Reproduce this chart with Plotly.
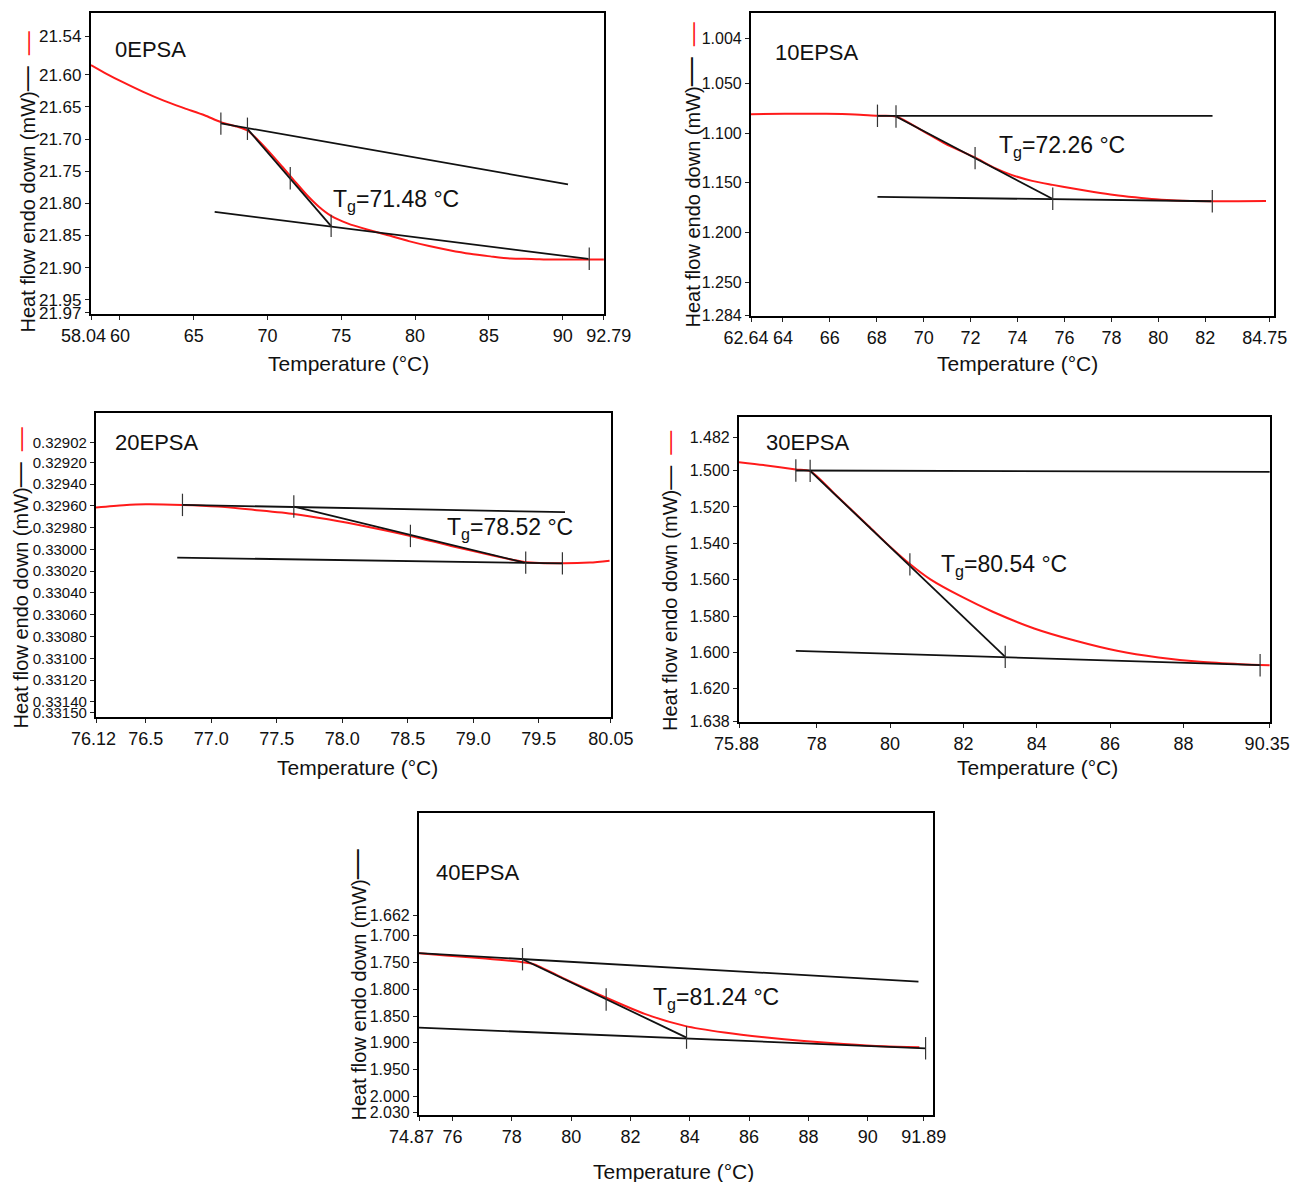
import plotly.graph_objects as go

W, H = 1290, 1182

# ---------------- 0EPSA ----------------
T_0 = [58.04, 59.09, 60.20, 61.58, 62.97, 64.35, 65.73, 66.84, 67.95, 68.64, 69.33, 70.16,
       70.99, 71.82, 72.65, 73.48, 74.31, 75.42, 76.80, 78.18, 79.57, 80.95, 82.33, 83.72,
       85.10, 86.48, 87.87, 89.25, 90.64, 92.79]
HF_0 = [21.5849, 21.5985, 21.6116, 21.6267, 21.6403, 21.6519, 21.6630, 21.6736, 21.6807,
        21.6867, 21.7009, 21.7210, 21.7427, 21.7649, 21.7866, 21.8052, 21.8194, 21.8310,
        21.8410, 21.8496, 21.8587, 21.8663, 21.8728, 21.8784, 21.8824, 21.8858, 21.8864,
        21.8874, 21.8874, 21.8874]
UPPER_T_0, UPPER_HF_0 = [66.84, 90.36], [21.6756, 21.7704]
LOWER_T_0, LOWER_HF_0 = [66.42, 91.74], [21.8133, 21.8864]
INFL_T_0, INFL_HF_0 = [68.64, 74.31], [21.6842, 21.8355]
MARK_T_0 = [66.84, 68.64, 71.54, 74.31, 91.80]
MARK_HF_0 = [21.676, 21.684, 21.761, 21.835, 21.886]
XTICK_0 = [58.04, 60, 65, 70, 75, 80, 85, 90, 92.79]
XTEXT_0 = ["58.04", "60", "65", "70", "75", "80", "85", "90", "92.79"]
YTICK_0 = [21.54, 21.60, 21.65, 21.70, 21.75, 21.80, 21.85, 21.90, 21.95, 21.97]
YTEXT_0 = ["21.54", "21.60", "21.65", "21.70", "21.75", "21.80", "21.85", "21.90", "21.95", "21.97"]

# ---------------- 10EPSA ----------------
T_10 = [62.64, 64.08, 65.84, 67.07, 68.03, 68.82, 69.88, 70.93, 72.16, 73.04, 73.74, 74.62,
        75.50, 76.37, 77.25, 78.13, 79.01, 79.89, 80.77, 82.26, 83.40, 84.59]
HF_10 = [1.08064, 1.08030, 1.08030, 1.08098, 1.08232, 1.08300, 1.09646, 1.11061, 1.12407,
         1.13519, 1.14192, 1.14798, 1.15202, 1.15572, 1.15909, 1.16212, 1.16448, 1.16650,
         1.16785, 1.16852, 1.16852, 1.16818]
UPPER_T_10, UPPER_HF_10 = [68.03, 82.31], [1.0823, 1.0823]
LOWER_T_10, LOWER_HF_10 = [68.03, 82.26], [1.16414, 1.16852]
INFL_T_10, INFL_HF_10 = [68.82, 75.46], [1.0830, 1.1658]
MARK_T_10 = [68.03, 68.82, 72.19, 75.50, 82.30]
MARK_HF_10 = [1.0823, 1.0830, 1.1250, 1.1660, 1.1685]
XTICK_10 = [62.64, 64, 66, 68, 70, 72, 74, 76, 78, 80, 82, 84.75]
XTEXT_10 = ["62.64", "64", "66", "68", "70", "72", "74", "76", "78", "80", "82", "84.75"]
YTICK_10 = [1.004, 1.050, 1.100, 1.150, 1.200, 1.250, 1.284]
YTEXT_10 = ["1.004", "1.050", "1.100", "1.150", "1.200", "1.250", "1.284"]

# ---------------- 20EPSA ----------------
T_20 = [76.12, 76.33, 76.50, 76.78, 77.05, 77.33, 77.63, 77.89, 78.21, 78.52, 78.83, 79.14,
        79.39, 79.68, 79.89, 80.04]
HF_20 = [0.329615, 0.329594, 0.329585, 0.329591, 0.329606, 0.329637, 0.329674, 0.329723,
         0.329796, 0.329876, 0.329968, 0.330054, 0.330115, 0.330128, 0.330121, 0.330103]
UPPER_T_20, UPPER_HF_20 = [76.78, 79.70], [0.329591, 0.329658]
LOWER_T_20, LOWER_HF_20 = [76.74, 79.68], [0.330075, 0.330128]
INFL_T_20, INFL_HF_20 = [77.63, 79.39], [0.329606, 0.330121]
MARK_T_20 = [76.78, 77.63, 78.52, 79.40, 79.68]
MARK_HF_20 = [0.329591, 0.329606, 0.329876, 0.330121, 0.330128]
XTICK_20 = [76.12, 76.5, 77.0, 77.5, 78.0, 78.5, 79.0, 79.5, 80.05]
XTEXT_20 = ["76.12", "76.5", "77.0", "77.5", "78.0", "78.5", "79.0", "79.5", "80.05"]
YTICK_20 = [0.32902, 0.32920, 0.32940, 0.32960, 0.32980, 0.33000, 0.33020, 0.33040,
            0.33060, 0.33080, 0.33100, 0.33120, 0.33140, 0.33150]
YTEXT_20 = ["0.32902", "0.32920", "0.32940", "0.32960", "0.32980", "0.33000", "0.33020",
            "0.33040", "0.33060", "0.33080", "0.33100", "0.33120", "0.33140", "0.33150"]

# ---------------- 30EPSA ----------------
T_30 = [75.88, 76.58, 77.43, 77.82, 78.50, 79.41, 79.97, 80.54, 81.10, 81.95, 82.80, 83.93,
        85.06, 86.19, 87.32, 88.45, 89.58, 90.35]
HF_30 = [1.49541, 1.49706, 1.49945, 1.50037, 1.51303, 1.53046, 1.54128, 1.55138, 1.55982,
         1.56936, 1.57761, 1.58679, 1.59358, 1.59908, 1.60275, 1.60514, 1.60642, 1.60697]
UPPER_T_30, UPPER_HF_30 = [77.43, 90.35], [1.5000, 1.50073]
LOWER_T_30, LOWER_HF_30 = [77.43, 90.09], [1.59908, 1.60697]
INFL_T_30, INFL_HF_30 = [77.82, 83.14], [1.50018, 1.60239]
MARK_T_30 = [77.43, 77.82, 80.54, 83.14, 90.09]
MARK_HF_30 = [1.5000, 1.5002, 1.5516, 1.6024, 1.6070]
XTICK_30 = [75.88, 78, 80, 82, 84, 86, 88, 90.35]
XTEXT_30 = ["75.88", "78", "80", "82", "84", "86", "88", "90.35"]
YTICK_30 = [1.482, 1.500, 1.520, 1.540, 1.560, 1.580, 1.600, 1.620, 1.638]
YTEXT_30 = ["1.482", "1.500", "1.520", "1.540", "1.560", "1.580", "1.600", "1.620", "1.638"]

# ---------------- 40EPSA ----------------
T_40 = [74.87, 75.77, 77.11, 78.36, 78.72, 79.80, 81.14, 82.48, 83.83, 85.17, 86.51, 87.85,
        89.19, 90.54, 91.74]
HF_40 = [1.7325, 1.7368, 1.7425, 1.7493, 1.7524, 1.7811, 1.8148, 1.8461, 1.8685, 1.8810,
         1.8898, 1.8966, 1.9022, 1.9066, 1.9085]
UPPER_T_40, UPPER_HF_40 = [74.87, 91.71], [1.7325, 1.7856]
LOWER_T_40, LOWER_HF_40 = [74.87, 91.95], [1.8717, 1.9104]
INFL_T_40, INFL_HF_40 = [78.36, 83.89], [1.7437, 1.8904]
MARK_T_40 = [78.36, 81.18, 83.89, 91.95]
MARK_HF_40 = [1.7437, 1.8191, 1.8904, 1.9104]
XTICK_40 = [74.87, 76, 78, 80, 82, 84, 86, 88, 90, 91.89]
XTEXT_40 = ["74.87", "76", "78", "80", "82", "84", "86", "88", "90", "91.89"]
YTICK_40 = [1.662, 1.700, 1.750, 1.800, 1.850, 1.900, 1.950, 2.000, 2.030]
YTEXT_40 = ["1.662", "1.700", "1.750", "1.800", "1.850", "1.900", "1.950", "2.000", "2.030"]

SAMPLES = ["0EPSA", "10EPSA", "20EPSA", "30EPSA", "40EPSA"]
TG_TEXT = ["71.48", "72.26", "78.52", "80.54", "81.24"]

FONT = "Liberation Sans, Arial, sans-serif"
RED = "#ff1a1a"
INK = "#111111"
NB = "\u00a0"


def fx(px):
    return px / W


def fy(py):
    return 1 - py / H


def pad_ends(labels, left, right_in, right_out=0):
    """Nudge crowded end labels sideways with non-breaking spaces."""
    out = list(labels)
    out[0] = out[0] + NB * left
    out[-1] = NB * right_out + out[-1] + NB * right_in
    return out


panels = [
    dict(T=T_0, HF=HF_0,
         lines=[(UPPER_T_0, UPPER_HF_0), (LOWER_T_0, LOWER_HF_0), (INFL_T_0, INFL_HF_0)],
         mt=MARK_T_0, mh=MARK_HF_0, xt=XTICK_0, xtt=pad_ends(XTEXT_0, 3, 0, 2), yt=YTICK_0, ytt=YTEXT_0,
         box=(91, 604, 13, 314), xr=[58.04, 92.80], yr=[21.972, 21.504], yfs=17,
         name_xy=(113, 50), tg_xy=(331, 200), ytitle_xy=(25, 335), xtitle_xy=(348, 363),
         red_leg=True, dash=25),
    dict(T=T_10, HF=HF_10,
         lines=[(UPPER_T_10, UPPER_HF_10), (LOWER_T_10, LOWER_HF_10), (INFL_T_10, INFL_HF_10)],
         mt=MARK_T_10, mh=MARK_HF_10, xt=XTICK_10, xtt=pad_ends(XTEXT_10, 2, 2), yt=YTICK_10, ytt=YTEXT_10,
         box=(751, 1274, 13, 316), xr=[62.64, 84.93], yr=[1.2843, 0.9786], yfs=16,
         name_xy=(773, 52), tg_xy=(997, 147), ytitle_xy=(690, 329), xtitle_xy=(1017, 363),
         red_leg=True, dash=29),
    dict(T=T_20, HF=HF_20,
         lines=[(UPPER_T_20, UPPER_HF_20), (LOWER_T_20, LOWER_HF_20), (INFL_T_20, INFL_HF_20)],
         mt=MARK_T_20, mh=MARK_HF_20, xt=XTICK_20, xtt=pad_ends(XTEXT_20, 1, 0), yt=YTICK_20, ytt=YTEXT_20,
         box=(96, 611, 413, 717), xr=[76.12, 80.051], yr=[0.331539, 0.328747], yfs=15,
         name_xy=(113, 443), tg_xy=(445, 528), ytitle_xy=(18, 731), xtitle_xy=(357, 768),
         red_leg=True, dash=25),
    dict(T=T_30, HF=HF_30,
         lines=[(UPPER_T_30, UPPER_HF_30), (LOWER_T_30, LOWER_HF_30), (INFL_T_30, INFL_HF_30)],
         mt=MARK_T_30, mh=MARK_HF_30, xt=XTICK_30, xtt=pad_ends(XTEXT_30, 1, 1), yt=YTICK_30, ytt=YTEXT_30,
         box=(739, 1270, 417, 722), xr=[75.88, 90.36], yr=[1.6382, 1.4706], yfs=16,
         name_xy=(764, 443), tg_xy=(939, 565), ytitle_xy=(668, 733), xtitle_xy=(1037, 768),
         red_leg=True, dash=24),
    dict(T=T_40, HF=HF_40,
         lines=[(UPPER_T_40, UPPER_HF_40), (LOWER_T_40, LOWER_HF_40), (INFL_T_40, INFL_HF_40)],
         mt=MARK_T_40, mh=MARK_HF_40, xt=XTICK_40, xtt=pad_ends(XTEXT_40, 3, 0), yt=YTICK_40, ytt=YTEXT_40,
         box=(419, 933, 813, 1115), xr=[74.87, 92.2], yr=[2.0352, 1.4702], yfs=16,
         name_xy=(434, 872), tg_xy=(651, 998), ytitle_xy=(355, 1123), xtitle_xy=(673, 1171),
         red_leg=False, dash=30),
]

fig = go.Figure()
layout = dict(width=W, height=H, margin=dict(l=0, r=0, t=0, b=0, pad=0, autoexpand=False),
              autosize=False, paper_bgcolor="white", plot_bgcolor="white", showlegend=False,
              font=dict(family=FONT, color=INK))
annotations = []

for i, p in enumerate(panels, start=1):
    xa = "x" if i == 1 else f"x{i}"
    ya = "y" if i == 1 else f"y{i}"
    xkey = "xaxis" if i == 1 else f"xaxis{i}"
    ykey = "yaxis" if i == 1 else f"yaxis{i}"

    fig.add_trace(go.Scatter(x=p["T"], y=p["HF"], mode="lines", xaxis=xa, yaxis=ya,
                             line=dict(color=RED, width=2, shape="spline", smoothing=0.7),
                             hoverinfo="skip"))
    for lx, ly in p["lines"]:
        fig.add_trace(go.Scatter(x=lx, y=ly, mode="lines", xaxis=xa, yaxis=ya,
                                 line=dict(color=INK, width=1.8), hoverinfo="skip"))
    fig.add_trace(go.Scatter(x=p["mt"], y=p["mh"], mode="markers", xaxis=xa, yaxis=ya,
                             marker=dict(symbol="line-ns", size=16,
                                         line=dict(width=1.2, color="#333333")),
                             hoverinfo="skip"))

    l, r, t, b = p["box"]
    axis_common = dict(showgrid=False, zeroline=False, showline=True, mirror=True,
                       linecolor="black", linewidth=2.2, ticks="outside", ticklen=4,
                       tickwidth=1, tickcolor="#222222", automargin=False, tickangle=0,
                       ticklabeloverflow="allow")
    layout[xkey] = dict(axis_common, domain=[fx(l), fx(r)], anchor=ya, range=p["xr"],
                        tickmode="array", tickvals=p["xt"], ticktext=p["xtt"],
                        tickfont=dict(size=18, family=FONT, color=INK))
    layout[ykey] = dict(axis_common, domain=[fy(b), fy(t)], anchor=xa, range=p["yr"],
                        tickmode="array", tickvals=p["yt"], ticktext=p["ytt"],
                        tickfont=dict(size=p["yfs"], family=FONT, color=INK))

    # sample name
    nx, ny = p["name_xy"]
    annotations.append(dict(text=SAMPLES[i - 1], xref="paper", yref="paper", x=fx(nx), y=fy(ny),
                            xanchor="left", yanchor="middle", showarrow=False,
                            font=dict(size=22, family=FONT, color=INK)))
    # Tg label
    gx, gy = p["tg_xy"]
    annotations.append(dict(text=f"T<sub>g</sub>={TG_TEXT[i - 1]} °C", xref="paper", yref="paper",
                            x=fx(gx), y=fy(gy), xanchor="left", yanchor="middle", showarrow=False,
                            font=dict(size=23, family=FONT, color=INK)))
    # y title with legend strokes (black = tangents, red = curve)
    tx, ty = p["ytitle_xy"]
    ytxt = f'Heat flow endo down (mW)<span style="font-size:{p["dash"]}px">—</span>'
    if p["red_leg"]:
        ytxt += (f'<span style="font-size:20px">{NB}{NB}</span>'
                 f'<span style="color:{RED};font-size:24px">—</span>')
    annotations.append(dict(text=ytxt, xref="paper", yref="paper", x=fx(tx), y=fy(ty),
                            xanchor="center", yanchor="bottom", textangle=-90, showarrow=False,
                            font=dict(size=20, family=FONT, color=INK)))
    # x title
    qx, qy = p["xtitle_xy"]
    annotations.append(dict(text="Temperature (°C)", xref="paper", yref="paper", x=fx(qx), y=fy(qy),
                            xanchor="center", yanchor="middle", showarrow=False,
                            font=dict(size=21, family=FONT, color=INK)))

layout["annotations"] = annotations
fig.update_layout(**layout)
fig.write_html("out.html")
